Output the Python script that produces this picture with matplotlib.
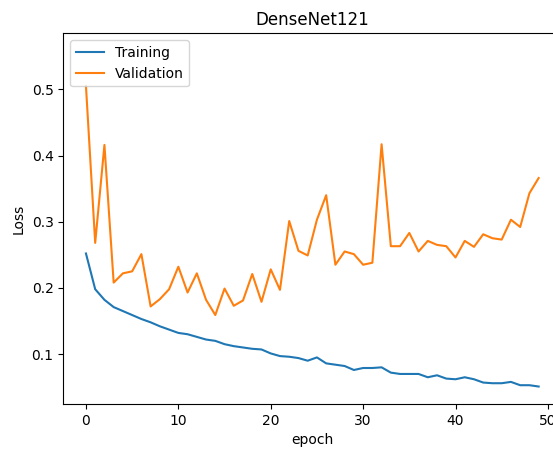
import matplotlib
matplotlib.use("Agg")
import matplotlib.pyplot as plt

# loss per epoch
epochs = list(range(50))
train_loss = [0.252, 0.198, 0.182, 0.171, 0.165, 0.159, 0.153, 0.148, 0.142, 0.137,
              0.132, 0.130, 0.126, 0.122, 0.120, 0.115, 0.112, 0.110, 0.108, 0.107,
              0.101, 0.097, 0.096, 0.094, 0.090, 0.095, 0.086, 0.084, 0.082, 0.076,
              0.079, 0.079, 0.080, 0.072, 0.070, 0.070, 0.070, 0.065, 0.068, 0.063,
              0.062, 0.065, 0.062, 0.057, 0.056, 0.056, 0.058, 0.053, 0.053, 0.051]
val_loss = [0.505, 0.268, 0.416, 0.208, 0.222, 0.225, 0.251, 0.172, 0.183, 0.198,
            0.232, 0.193, 0.222, 0.182, 0.159, 0.199, 0.173, 0.181, 0.221, 0.179,
            0.228, 0.197, 0.301, 0.256, 0.249, 0.303, 0.340, 0.235, 0.255, 0.251,
            0.235, 0.238, 0.417, 0.263, 0.263, 0.283, 0.255, 0.271, 0.265, 0.263,
            0.246, 0.271, 0.262, 0.281, 0.275, 0.273, 0.303, 0.292, 0.343, 0.366]

fig = plt.figure(figsize=(5.53, 4.5), dpi=100)
# axes run off the right edge, like the cropped original
ax = fig.add_axes([0.1145, 0.1022, 0.9005, 0.8238])

ax.plot(epochs, train_loss, label="Training")
ax.plot(epochs, val_loss, label="Validation")

ax.set_xlim(-2.45, 51.45)
ax.set_ylim(0.0246, 0.5846)
ax.set_title("DenseNet121")
ax.set_xlabel("epoch")
ax.set_ylabel("Loss")
ax.legend(loc="upper left")

fig.savefig("out.png", dpi=100)
